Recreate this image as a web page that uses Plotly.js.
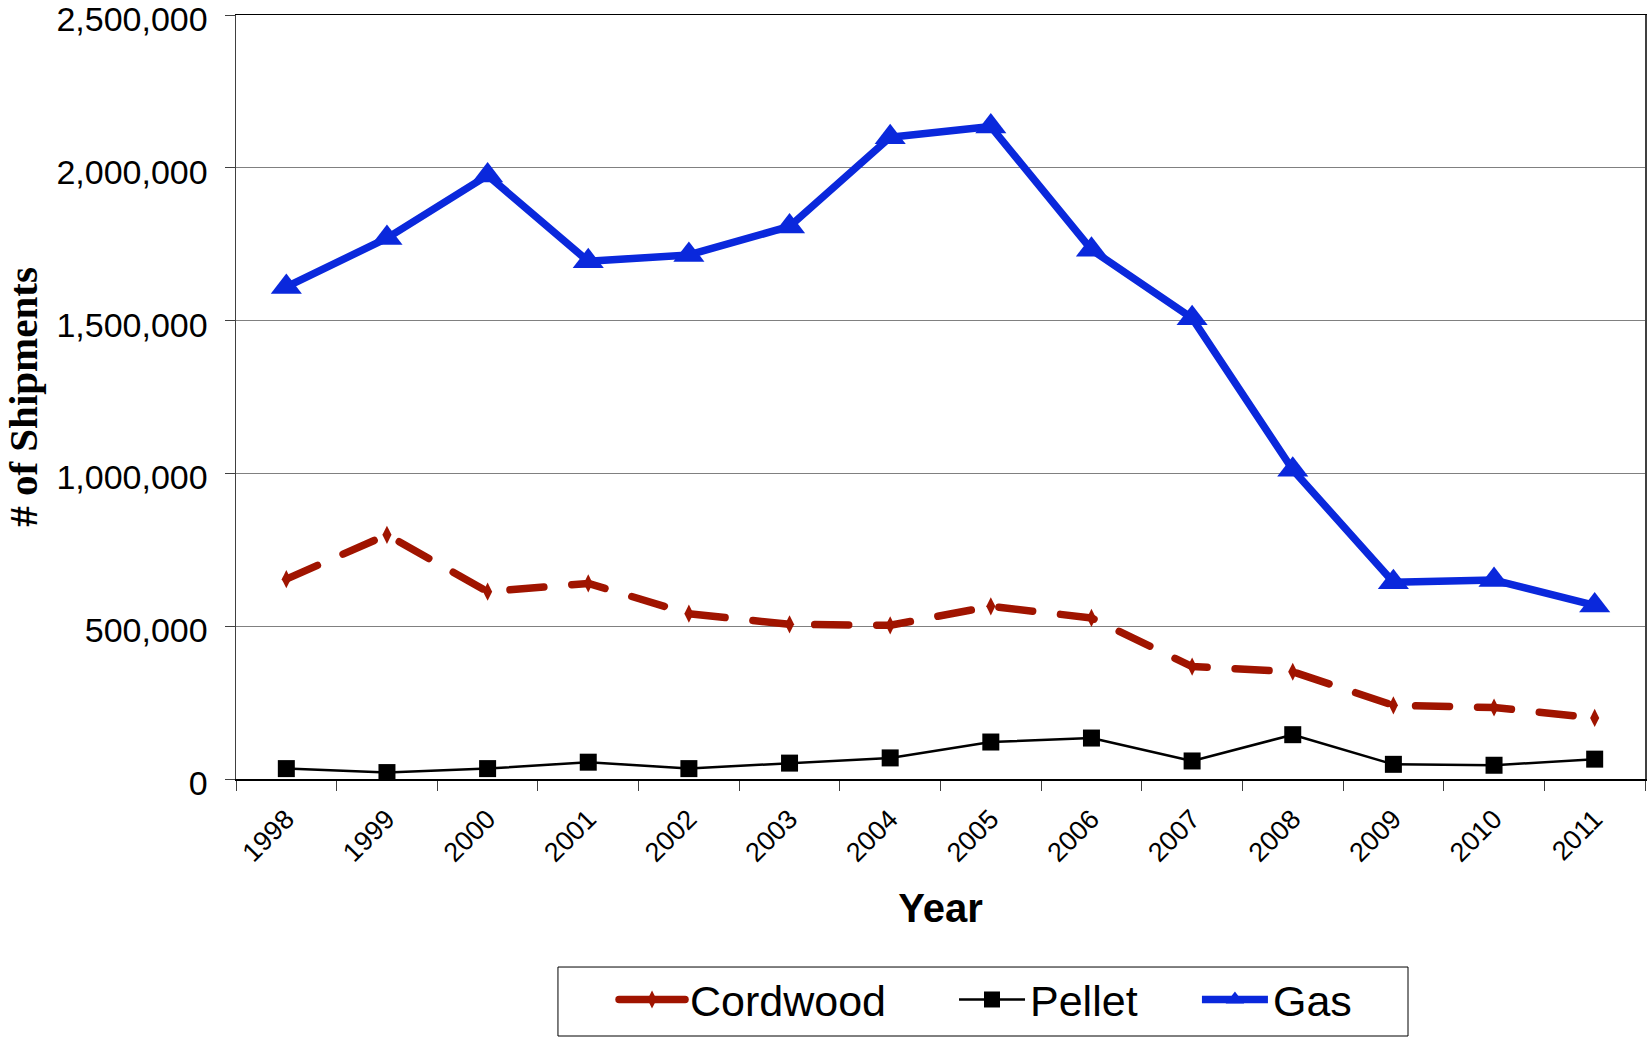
<!DOCTYPE html>
<html>
<head>
<meta charset="utf-8">
<script src="https://cdn.plot.ly/plotly-3.0.1.min.js"></script>
<style>
html, body { margin: 0; padding: 0; background: #fff; }
#chart { width: 1650px; height: 1040px; }
</style>
</head>
<body>
<div id="chart"></div>
<script>
const years = ["1998","1999","2000","2001","2002","2003","2004","2005","2006","2007","2008","2009","2010","2011"];
const cordwood = [654000, 799000, 613000, 640000, 541000, 506000, 503000, 565000, 527000, 368000, 351000, 241000, 234000, 200000];
const pellet = [34000, 21000, 34000, 55000, 34000, 52000, 69000, 121000, 134000, 59000, 145000, 48000, 45000, 65000];
const gas = [1610000, 1770000, 1975000, 1694000, 1715000, 1808000, 2100000, 2135000, 1732000, 1508000, 1012000, 644000, 651000, 568000];
const yTicks = [0, 500000, 1000000, 1500000, 2000000, 2500000];
const yTickText = ["0", "500,000", "1,000,000", "1,500,000", "2,000,000", "2,500,000"];

const traces = [
  {
    x: years, y: cordwood, name: "Cordwood", type: "scatter", mode: "lines+markers", legend: "legend",
    line: { color: "#A01400", width: 7.5, dash: "34px,28px" },
    marker: { symbol: "diamond-tall", size: 13, color: "#A01400" }
  },
  {
    x: years, y: pellet, name: "Pellet", type: "scatter", mode: "lines+markers", legend: "legend2",
    line: { color: "#000000", width: 2.5 },
    marker: { symbol: "square", size: 17, color: "#000000" }
  },
  {
    x: years, y: gas, name: "Gas", type: "scatter", mode: "lines+markers", legend: "legend3",
    line: { color: "#0A28DC", width: 7.5 },
    marker: { symbol: "triangle-up", size: 27, color: "#0A28DC" }
  }
];

function legendAt(x) {
  return {
    orientation: "h", x: x, xanchor: "left", y: -0.2435, yanchor: "top",
    bgcolor: "rgba(0,0,0,0)", borderwidth: 0, font: { size: 43 },
    itemwidth: 66
  };
}

const layout = {
  width: 1650, height: 1040,
  margin: { l: 236, r: 5, t: 15, b: 261 },
  paper_bgcolor: "#ffffff", plot_bgcolor: "#ffffff",
  font: { family: "Liberation Sans, Arial, sans-serif", color: "#000" },
  showlegend: true,
  legend: legendAt(0.2683),
  legend2: legendAt(0.5096),
  legend3: legendAt(0.682),
  shapes: [
    {
      type: "rect", xref: "paper", yref: "paper",
      x0: 0.2285, x1: 0.8318, y0: -0.3364, y1: -0.2461,
      line: { color: "#000", width: 1 }, fillcolor: "rgba(0,0,0,0)", layer: "below"
    }
  ],
  xaxis: {
    type: "category",
    range: [-0.5, 13.5],
    tickangle: -45,
    tickfont: { size: 27 },
    ticks: "outside", ticklen: 10, tickcolor: "#404040", tickson: "boundaries",
    ticklabelstandoff: 12,
    showline: true, linecolor: "#000", linewidth: 1.5, mirror: true,
    showgrid: false, zeroline: false,
    title: { text: "<b>Year</b>", font: { size: 40 }, standoff: 27 },
    automargin: false
  },
  yaxis: {
    range: [0, 2500000],
    tickvals: yTicks, ticktext: yTickText,
    tickfont: { size: 34 },
    ticks: "outside", ticklen: 10, tickcolor: "#404040",
    ticklabelstandoff: 10, ticklabelshift: 4, ticklabeloverflow: "allow",
    showline: true, linecolor: "#404040", linewidth: 1.5, mirror: true,
    showgrid: true, gridcolor: "#808080", gridwidth: 1,
    zeroline: false,
    title: { text: "<b># of Shipments</b>", font: { size: 41, family: "Liberation Serif, Times New Roman, serif" }, standoff: 15 },
    automargin: false
  }
};

Plotly.newPlot("chart", traces, layout, { displayModeBar: false, staticPlot: true }).then(function () {
  document.querySelectorAll(".scatterlayer .trace .js-line").forEach(function (p) {
    p.style.strokeLinecap = "round";
    p.style.strokeLinejoin = "round";
  });
  document.querySelectorAll(".legend .js-line").forEach(function (p) {
    p.style.strokeLinecap = "round";
    p.style.strokeDasharray = "none";
  });
});
</script>
</body>
</html>
